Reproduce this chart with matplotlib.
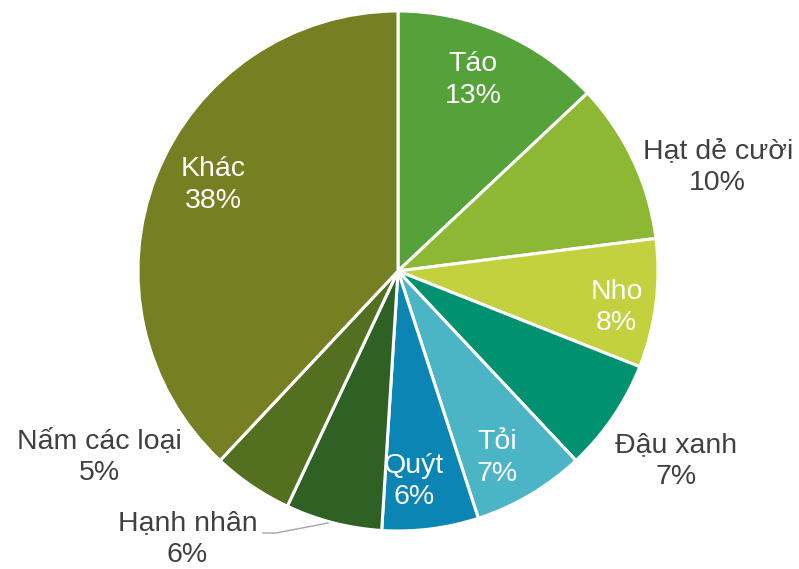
import matplotlib.pyplot as plt
import numpy as np

plt.rcParams['font.family'] = ['Liberation Sans', 'DejaVu Sans']

# data (clockwise from 12 o'clock)
labels = ["Táo", "Hạt dẻ cười", "Nho", "Đậu xanh", "Tỏi", "Quýt",
          "Hạnh nhân", "Nấm các loại", "Khác"]
shares = [13, 10, 8, 7, 7, 6, 6, 5, 38]
colors = ["#55a13a", "#8db833", "#c4d13f", "#009170", "#4bb5c6", "#0b86b4",
          "#306124", "#52701f", "#767f21"]

# label placement (in pie radii) and whether it sits inside the wedge
label_pos = [(0.29, 0.735), (1.23, 0.40), (0.84, -0.14), (1.07, -0.73),
             (0.38, -0.72), (0.06, -0.81), (-0.81, -1.03), (-1.15, -0.715),
             (-0.71, 0.33)]
inside = [True, False, True, False, True, True, False, False, True]

fig = plt.figure(figsize=(7.99, 5.69), dpi=100)
# pie center ~ (398, 271) px, radius ~ 260 px
R = 260
ax = fig.add_axes([(398 - R) / 799, (569 - 271 - R) / 569, 2 * R / 799, 2 * R / 569])

wedges, _ = ax.pie(shares, colors=colors, startangle=90, counterclock=False,
                   radius=1.0, center=(0, 0), frame=True,
                   wedgeprops=dict(edgecolor="white", linewidth=2.2))
ax.set_xlim(-1, 1)
ax.set_ylim(-1, 1)
ax.axis("off")

for lab, val, (x, y), ins in zip(labels, shares, label_pos, inside):
    ax.text(x, y, f"{lab}\n{val}%", ha="center", va="center",
            fontsize=20.5, linespacing=1.28,
            color="white" if ins else "#404040", clip_on=False)

# leader line for Hạnh nhân
lx = np.array([263, 276, 328])
ly = np.array([533, 533, 523])
ax.plot((lx - 398) / R, (271 - ly) / R, color="#a6a6a6", lw=1.0, clip_on=False)

fig.savefig("out.png", dpi=100)
